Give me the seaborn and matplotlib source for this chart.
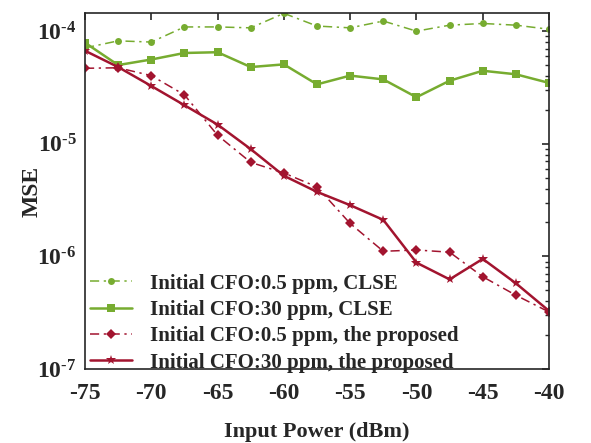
import numpy as np
import pandas as pd
import matplotlib
matplotlib.use("Agg")
import matplotlib.pyplot as plt
import matplotlib.ticker as mticker
import seaborn as sns

# ---- data ----
power = [-75, -72.5, -70, -67.5, -65, -62.5, -60, -57.5, -55, -52.5, -50, -47.5, -45, -42.5, -40]
clse_05 = [7.1e-5, 8.2e-5, 8.0e-5, 1.09e-4, 1.09e-4, 1.07e-4, 1.44e-4, 1.11e-4, 1.07e-4,
           1.23e-4, 1.0e-4, 1.13e-4, 1.17e-4, 1.13e-4, 1.04e-4]
clse_30 = [7.9e-5, 5.0e-5, 5.6e-5, 6.4e-5, 6.5e-5, 4.8e-5, 5.07e-5, 3.37e-5, 4.03e-5,
           3.73e-5, 2.59e-5, 3.63e-5, 4.45e-5, 4.14e-5, 3.47e-5]
prop_05 = [4.68e-5, 4.73e-5, 4.03e-5, 2.72e-5, 1.19e-5, 6.84e-6, 5.5e-6, 4.14e-6, 1.96e-6,
           1.11e-6, 1.14e-6, 1.09e-6, 6.6e-7, 4.52e-7, 3.21e-7]
prop_30 = [6.7e-5, 4.8e-5, 3.26e-5, 2.2e-5, 1.48e-5, 8.97e-6, 5.2e-6, 3.74e-6, 2.85e-6,
           2.11e-6, 8.8e-7, 6.25e-7, 9.5e-7, 5.77e-7, 3.28e-7]
labels = ["Initial CFO:0.5 ppm, CLSE", "Initial CFO:30 ppm, CLSE",
          "Initial CFO:0.5 ppm, the proposed", "Initial CFO:30 ppm, the proposed"]
xticks = [-75, -70, -65, -60, -55, -50, -45, -40]
yticks = [1e-7, 1e-6, 1e-5, 1e-4]

sns.set_style("white")
plt.rcParams['font.family'] = ['Liberation Serif', 'DejaVu Serif']
plt.rcParams['font.weight'] = 'bold'
plt.rcParams['axes.unicode_minus'] = False
plt.rcParams['mathtext.fontset'] = 'custom'
plt.rcParams['mathtext.rm'] = 'Liberation Serif:bold'
plt.rcParams['mathtext.it'] = 'Liberation Serif:bold'
plt.rcParams['mathtext.bf'] = 'Liberation Serif:bold'

green = "#77AC30"
red = "#A2142F"

fig = plt.figure(figsize=(5.91, 4.43), dpi=100)
ax = fig.add_axes([0.1438, 0.167, 0.7852, 0.8037])

styles = [
    dict(y=clse_05, color=green, ls=(0, (6, 3, 1.5, 3)), marker="o", ms=5, lw=1.1),
    dict(y=clse_30, color=green, ls="-", marker="s", ms=6, lw=1.8),
    dict(y=prop_05, color=red, ls=(0, (6, 3, 1.5, 3)), marker="D", ms=5, lw=1.1),
    dict(y=prop_30, color=red, ls="-", marker="*", ms=7, lw=1.8),
]
for lab, st in zip(labels, styles):
    df = pd.DataFrame({"x": power, "y": st["y"]})
    sns.lineplot(data=df, x="x", y="y", ax=ax, color=st["color"], linestyle=st["ls"],
                 marker=st["marker"], markersize=st["ms"], linewidth=st["lw"],
                 markeredgewidth=0, label=lab)

ax.set_yscale("log")
ax.set_xlim(-75, -40)
ax.set_ylim(1e-7, 1.45e-4)
ax.set_xticks(xticks)
ax.set_xticklabels([str(t) for t in xticks])
ax.set_yticks(yticks)
ax.yaxis.set_major_formatter(mticker.FuncFormatter(
    lambda v, p: r"10$^{\text{%d}}$" % int(round(np.log10(v)))))
ax.tick_params(axis="both", which="both", direction="in", top=True, right=True,
               labelsize=17, pad=6)
ax.tick_params(axis="x", which="major", pad=10)
ax.tick_params(axis="both", which="major", length=5, width=1.2)
ax.tick_params(axis="y", which="minor", length=3, width=1.0)
for sp in ax.spines.values():
    sp.set_linewidth(1.2)
    sp.set_color("#262626")
ax.set_xlabel("Input Power (dBm)", fontsize=16, fontweight="bold", labelpad=13)
ax.set_ylabel("MSE", fontsize=17, fontweight="bold", labelpad=-4)

leg = ax.legend(loc="lower left", bbox_to_anchor=(-0.016, -0.045), frameon=False,
                prop=dict(size=15, weight="bold"), handlelength=2.0,
                handletextpad=0.9, labelspacing=0.3, borderaxespad=0.2)

fig.savefig("out.png", dpi=100)
